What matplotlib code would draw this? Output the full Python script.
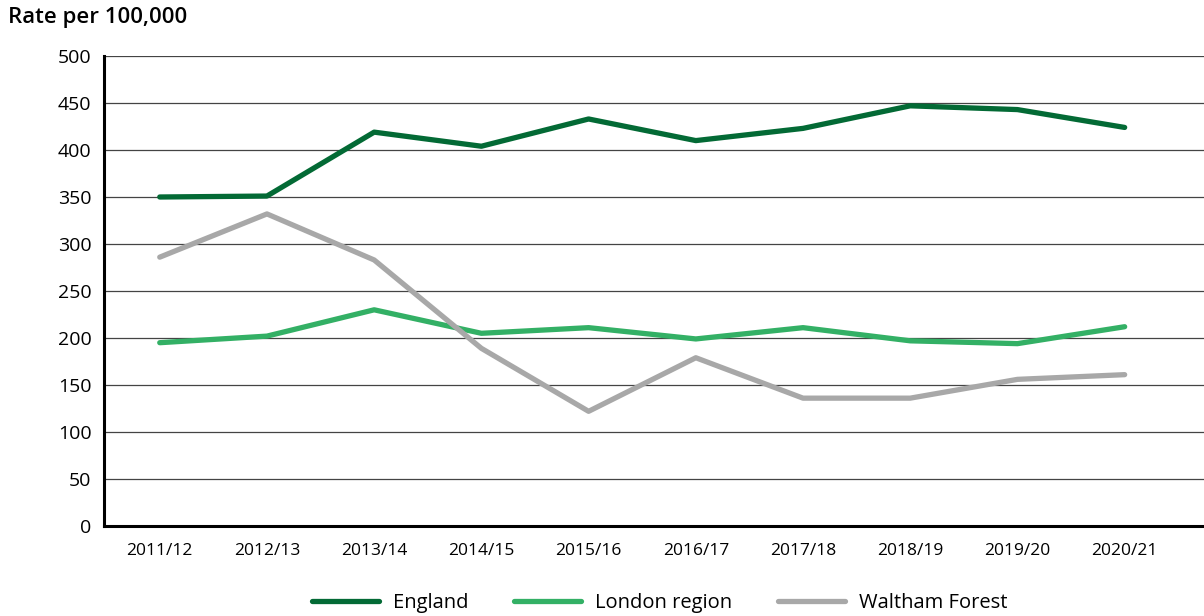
import matplotlib.pyplot as plt

years = ["2011/12", "2012/13", "2013/14", "2014/15", "2015/16",
         "2016/17", "2017/18", "2018/19", "2019/20", "2020/21"]
england = [350, 351, 419, 404, 433, 410, 423, 447, 443, 424]
london = [195, 202, 230, 205, 211, 199, 211, 197, 194, 212]
waltham = [286, 332, 283, 189, 122, 179, 136, 136, 156, 161]

plt.rcParams['font.family'] = ['Open Sans', 'DejaVu Sans']

fig = plt.figure(figsize=(12.04, 6.16), dpi=100)
ax = fig.add_axes([104 / 1204, 1 - 526 / 616, 1 - 104 / 1204, 470 / 616])

x = list(range(len(years)))
ax.plot(x, england, color='#036a35', lw=3.8, solid_capstyle='round', label='England')
ax.plot(x, london, color='#33b065', lw=3.8, solid_capstyle='round', label='London region')
ax.plot(x, waltham, color='#a8a8a8', lw=3.8, solid_capstyle='round', label='Waltham Forest')

ax.set_ylim(0, 500)
ax.set_yticks(range(0, 501, 50))
ax.set_xlim(-0.52, 9.74)
ax.set_xticks(x)
ax.set_xticklabels(years)
ax.grid(axis='y', color='#444444', lw=0.9)
ax.set_axisbelow(True)
for s in ['top', 'right']:
    ax.spines[s].set_visible(False)
ax.spines['left'].set_linewidth(2.2)
ax.spines['bottom'].set_linewidth(2.2)
ax.tick_params(axis='y', length=0, labelsize=14, pad=9)
ax.tick_params(axis='x', length=0, labelsize=12.5, pad=12)

fig.text(8 / 1204, 1 - 18 / 616, "Rate per 100,000", fontsize=16, fontweight='semibold',
         va='center', ha='left')

fig.legend(loc='center', bbox_to_anchor=(0.548, 1 - 603 / 616), ncol=3, frameon=False,
           handlelength=3.3, columnspacing=2.3, handletextpad=0.7,
           prop={'weight': 'medium', 'size': 14.5})

fig.savefig('out.png', dpi=100)
